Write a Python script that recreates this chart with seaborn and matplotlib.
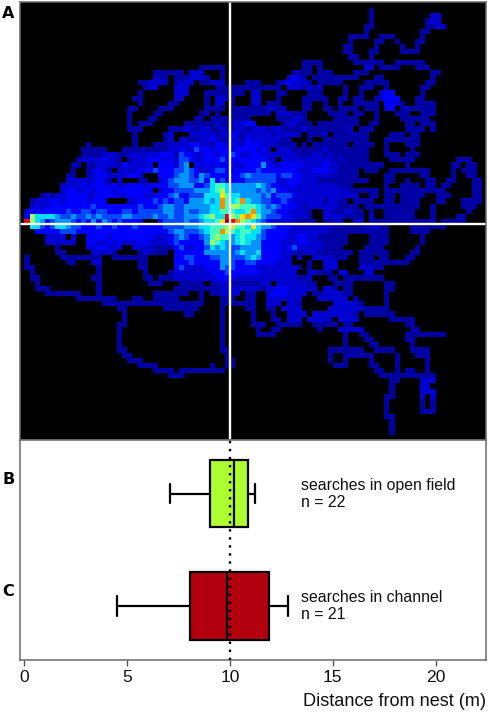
import numpy as np
import pandas as pd
import seaborn as sns
import matplotlib.pyplot as plt
from matplotlib.colors import ListedColormap

# visit counts per 0.25 m cell, one entry per row from the top
# each token is start_column:levels (hex digit), anything not listed is never visited
HEAT_ROWS = [
    "",
    "67:1",
    "67:1 79:22",
    "67:1 78:122",
    "66:11 78:1122",
    "66:1 77:11",
    "63:1111 69:111 77:1",
    "63:1 68:11 72:1 76:11",
    "62:11 68:1 73:1 76:1",
    "62:11 67:11 73:1111",
    "63:11 67:1",
    "54:1111 64:111111 72:111111",
    "34:11111 54:11 57:1 66:22 69:1111 76:111",
    "25:111111 32:222 38:1 52:1111 57:111 64:111 79:11",
    "25:211 29:111222 35:1 38:1 51:2321 56:1 57:11111111 68:11 79:1",
    "22:1122 26:22 29:1222 34:11222 43:111 49:1232221 57:11111 66:11111 78:11",
    "23:1 24:22 29:222 37:111111 43:1111111 51:2221212 62:1 65:111 70:1 77:11",
    "22:1 29:222 35:111111 41:11 44:22 49:11 55:111 62:1 65:1 69:233 77:1",
    "21:11 29:22 35:1 37:22 39:11 44:22 49:1 54:11111 61:11 64:11 68:12333 76:11",
    "22:1 28:11 35:1 37:22 40:1 44:22 47:111 54:11 58:1 61:1 64:11111 70:3321 76:1111",
    "20:11 26:111 35:1111 40:111 43:11112211 54:11 58:11 61:1111 66:111 70:23 73:1211111",
    "20:1 25:11 34:11 37:1 40:111 43:11111 49:22211 54:1 59:1111 64:11 68:1 72:111 77:111",
    "20:1 24:11 33:11 36:1111111 43:1 49:11122 54:1 60:1111 64:1 68:1 73:111 76:11 78:1",
    "20:1 22:111 31:1111112 38:11222 43:33 50:122 53:111 57:1111111 64:1 67:11 74:11 77:111",
    "20:111 28:1112212211 38:2112212 45:2212211112 55:111111112 65:111 74:1111 79:1",
    "21:1 27:12 32:2222 36:2122 40:3212 44:2222122221 55:1112 60:111111 64:111 71:111 75:11",
    "21:1 27:12 30:2211223 37:2112 41:21 43:322222211 55:1 58:111111 64:111 70:111111 75:11",
    "12:1 21:1 25:111 28:22223322 36:1332 40:322 43:33322211 51:11 54:1 56:1111111 64:1111 70:1 74:111",
    "11:11111 19:11111 24:111122 30:3224332 37:3332 41:33 43:3323 47:2 49:2221 53:11111 58:21111 63:111 66:1 70:1 75:1",
    "11:1111222 18:11222 23:2223331 30:433 33:223 36:32 38:3343 42:22 44:3322 48:2222 52:2111 56:2212 60:11111 65:11 70:111 74:111",
    "10:122223221 20:1222333232 30:44322 35:3 36:33 38:43 40:3333 44:333 47:22 50:2222 54:22 56:2222 60:1211 64:111 71:11 73:111 84:111",
    "9:11 12:11222213 20:22223 26:3332 30:45 33:3232 37:32 39:33 41:22 43:3335 47:322 50:3 51:3332 55:22 57:2322 61:1111 65:11111 74:1 83:11 86:11",
    "9:1 12:12321 18:222233 24:34333 29:4454 33:3223 37:44 39:32 41:33 43:3343 47:3333 51:3 52:32 54:22 56:33 58:322 61:1111 66:111 71:11111111 83:1 85:111",
    "8:11 12:1233 16:222 19:2332 26:33 28:3455 32:43 34:54 36:33 38:33 40:33 42:45 44:44 46:44 48:43 50:4433 54:22 56:22 58:221 61:1111 70:11 77:11 83:1 86:11",
    "8:2222 12:223 15:21 18:2 22:11 26:23 28:4555 32:44 34:53 36:63 38:42 40:333 43:44 45:44 47:44 49:22 51:3332 55:22 57:1111 61:1111 65:11 70:11 74:1 78:11 82:11 87:11",
    "7:22223 12:2333 16:232 19:23 21:33 23:233 26:33 28:44555 33:334 36:677 39:6555 43:556 46:54 48:3 49:3233 53:22 55:2222 59:2211 63:1 70:1 73:1111 78:11 81:11 87:11",
    "7:233 10:2232 14:333 17:2 18:33 20:333 23:33 26:23 28:34 30:4445 34:55 36:678 39:655555 45:45 47:45 49:332 52:22 54:22222 59:22 61:22 63:11 64:11111 70:111 73:11111 78:1111 87:11",
    "3:1212 7:2333 11:3223 15:3332 19:2333 23:22 25:333 28:45 30:33 32:44 34:466 37:69 39:766 42:5 43:555 46:45 48:34 50:4432 54:22 56:2222 60:22 62:222 67:11 70:11 73:11111 80:111 87:11",
    "1:1222 5:3323 9:3332 13:333 20:22 22:33 24:34 26:34 28:34 30:43 32:55 34:565 37:6a767a65 45:54 47:43 49:34 51:32 53:22 55:2221 59:2211 64:1111 70:11 73:1111 80:11 85:1111",
    "1:2222 5:3333 9:3333 13:433 16:33 18:33 20:33 22:43 24:33 26:45 28:544 31:55 33:555 36:66a 39:788777 45:65 47:45 49:43 51:3321 55:22 57:22 59:2211 63:11 66:1111 70:1111111 79:1 85:111",
    "0:2 1:3333 5:3334 9:3344 13:3443 17:3344 21:3444 25:44 27:55 29:445 32:44 34:55 36:667 39:77 41:66 43:7a 45:65 47:54 49:33 51:22 53:22 55:1 58:22 60:1122 64:11 67:1 70:111111 79:1 86:1",
    "0:3 1:8 2:6666 6:5445 10:4454 14:5444 18:4554 22:4445 26:44 28:5445 32:55 34:678 37:66b 40:879a9 45:75 47:44 49:43 51:32 53:22 55:1 58:22 60:2211 64:11 67:2 70:111111 79:1 84:11",
    "0:b 1:8 2:6 3:53 5:45 7:55 9:4343 13:5354 17:3433 21:33 26:34 28:4445 32:44 34:566 37:79c 40:ba87 44:65 46:4 47:32 49:22 51:21 53:11 55:11 58:1122 64:22 67:1111 71:11111 76:1111 81:11111",
    "1:66 3:43 5:4 6:66 8:5 9:443 12:3343 16:3433 20:3433 24:33 26:34 28:44 30:45 32:55 34:66 36:77 38:78 40:97 42:76 44:96 46:55 48:43 50:33 52:22 54:22 56:22 58:22 60:11 62:11 64:11 66:222 69:11 75:1111111",
    "2:3 3:33 5:33 7:44 9:4 10:3333 14:33 16:3333 20:3333 24:3333 28:4 29:5 30:54 32:44 34:5 35:6 36:77 38:a87 41:6 42:77 44:66 46:4 47:33 49:33 51:22 53:22 55:22 57:22 59:11 61:111 64:111 67:111 70:1 75:1111",
    "4:2222 9:2 12:3333 16:2333 20:333 23:33 25:22 27:2 28:3 29:45 31:4 32:33 34:45 36:787 39:7 40:56 42:76 44:65 46:4 47:33 49:33 51:22 53:33 55:2211 59:11 61:11 67:1111 77:1",
    "4:22 6:222 8:22 12:3322 16:3232 20:2233 24:22 26:22 28:3 29:43 31:33 33:33 35:5 36:87 38:65 40:56 42:76 44:55 46:33 48:33 50:22 52:23 54:32 56:2211 60:11 62:1 67:1111 77:1",
    "6:1 12:22 14:33 16:22 18:2 21:2222 25:11 27:11 29:34 31:22 33:33 35:4 36:65 38:65 40:44 42:55 44:55 46:33 48:33 50:2 51:34 53:22 55:2 56:22 58:11 60:11 66:1111 76:1",
    "6:11 13:22 15:22 17:1 22:1 23:22 25:11 27:1 29:33 31:33 33:33 35:55 37:55 39:5 40:45 42:65 44:56 46:33 48:33 50:22 52:21 54:22 56:21 58:1111 62:11 65:11 67:11 69:11 75:11",
    "0:1 7:11111111 17:1111111 29:33 31:44 33:33 35:34 37:45 39:54 41:44 43:56 45:5 46:33 48:33 50:22 53:2 56:22 58:22 60:11 62:1 65:111 69:11 74:11",
    "0:1 8:11 13:22 22:11 29:33 31:34 33:33 35:33 37:35 39:54 41:33 43:44 45:33 47:33 49:22 51:2 55:1 58:222 65:1111111111",
    "0:11 14:1 22:11 29:34 31:22 33:22 35:33 37:35 39:44 41:33 43:33 45:22 47:22 49:22 51:22 53:1 55:1 58:222 65:22211",
    "1:1 14:1 23:1 28:1222 32:22 34:22 36:33 38:34 40:33 42:33 44:33 46:22 48:22 50:22 52:2 55:22111 61:22 66:22",
    "1:11 13:11 23:11 26:111 29:2222 33:22 35:22 37:33 39:33 41:22 43:22 45:22 47:22 49:22 51:22 53:11 55:2 59:11 62:11111111",
    "2:1 14:1 24:111 30:111 33:11 36:1122 40:111111 46:22 49:222 52:2 53:22 55:11 60:11 62:11 70:11",
    "2:111 14:1 29:111 32:11 34:1 35:1 36:1122 40:222 43:222 46:1 47:2233 51:2222 55:22 58:22 60:1 62:11 70:11",
    "4:1111111 14:1 25:11111 30:11 34:1 36:112222 43:11 47:2 48:33 50:3 51:22 53:22 56:11 58:2222 62:11 70:1",
    "10:11111111 21:11 25:11111 34:1 38:11 40:1 43:11 47:222 50:22 52:22 57:2222 61:22 64:1 70:1",
    "15:111111111111 27:11111 32:111 38:11111 43:11 47:222 51:22 53:1 60:22222 65:1 70:1",
    "18:11 27:1111111 38:1 43:11 47:11 50:2222 53:2 59:222 62:22222 66:11111",
    "19:1 31:11 38:1 44:1 48:1 51:2222 56:22222 61:222 64:1 66:111111",
    "19:1 38:1 44:1 48:11 51:222 55:222 58:2 59:1 61:2222 71:11111",
    "18:11 38:1 44:111 49:11111 56:111 59:1 60:1 62:11 74:11",
    "18:1 38:1 45:1 48:11 57:1 61:22222 75:11",
    "18:1 38:1 45:1111 62:1 65:11 74:11111111",
    "18:1 38:1 62:1 66:11 74:11",
    "18:1 38:1 62:1 67:11 75:1",
    "18:11 38:11 59:1111111 68:1111 75:1111",
    "19:11 39:1 59:1 62:11 64:1111 72:1 76:111",
    "20:111 39:11 59:1 62:1 67:1 72:1 78:1",
    "22:1111 36:1 39:11 60:111 67:11 72:1 78:1",
    "25:1111 30:111111111 68:11 72:1 74:11 78:1",
    "28:111 69:1111111 76:1111",
    "71:11 77:222",
    "71:1 77:22",
    "71:1 77:222",
    "70:11 77:2 79:2",
    "70:1 77:1 79:1",
    "70:1 77:1 79:1",
    "70:1 77:111",
    "70:11",
    "71:1",
    "71:1",
    "71:1",
    "",
]

LEVEL_COLORS = ['#0000a4', '#0000d0', '#0000ff', '#0048ff', '#0094ff', '#00e0ff',
                '#40ffc0', '#a0ff60', '#ffe000', '#ff8c00', '#f00000', '#8c0000']

GROUPS = ['B', 'C']
OPEN_FIELD = [7.1, 9.05, 10.2, 10.9, 11.2]
CHANNEL = [4.5, 8.05, 9.85, 11.9, 12.85]
BOX_COLORS = ['#adff2f', '#b2000f']
XTICKS = [0, 5, 10, 15, 20]
NEST_DIST = 10
CELL = 0.25
N_COLS = 90

# 把每行的 token 还原成矩阵
grid = np.zeros((len(HEAT_ROWS), N_COLS))
for r, row in enumerate(HEAT_ROWS):
    for tok in row.split():
        start, levels = tok.split(':')
        for i, ch in enumerate(levels):
            grid[r, int(start) + i] = int(ch, 16)

sns.set_theme(style='white')
plt.rcParams['font.family'] = ['Liberation Sans', 'DejaVu Sans']

W, H = 490, 715
fig = plt.figure(figsize=(W / 100, H / 100), dpi=100)
ax_a = fig.add_axes([20 / W, (H - 440) / H, 466 / W, 438 / H])
ax_b = fig.add_axes([20 / W, (H - 660) / H, 466 / W, 220 / H])

# Panel A
ax_a.set_facecolor('black')
sns.heatmap(grid, mask=grid == 0, cmap=ListedColormap(LEVEL_COLORS), vmin=0.5, vmax=12.5,
            cbar=False, xticklabels=False, yticklabels=False, ax=ax_a)
ax_a.set_xlim(-0.875, 89.8)
ax_a.set_ylim(85, -0.2)
ax_a.axvline(NEST_DIST / CELL, color='white', linewidth=1.7)
ax_a.axhline(43, color='white', linewidth=1.7)

# Panels B and C
box_df = pd.DataFrame({
    'group': ['B'] * len(OPEN_FIELD) + ['C'] * len(CHANNEL),
    'dist': OPEN_FIELD + CHANNEL,
})
sns.boxplot(data=box_df, x='dist', y='group', hue='group', order=GROUPS, palette=BOX_COLORS,
            saturation=1, width=0.6, whis=(0, 100), linecolor='black', linewidth=1.6,
            capwidths=0.17, legend=False, ax=ax_b)
ax_b.axvline(NEST_DIST, color='black', linewidth=1.7, linestyle=(0, (1, 2.4)), zorder=6)
ax_b.set_xlim(-0.2, 22.45)
ax_b.set_ylim(1.48, -0.476)
ax_b.set_xticks(XTICKS)
ax_b.set_yticks([])
ax_b.set_ylabel('')
ax_b.set_xlabel('')
ax_b.tick_params(axis='x', bottom=True, length=4, width=1, color='#555555', labelsize=12.6, pad=3,
                 labelcolor='#111111')

for ax in [ax_a, ax_b]:
    for side in ax.spines:
        ax.spines[side].set_visible(True)
        ax.spines[side].set_color('#6a6a6a')
        ax.spines[side].set_linewidth(1.1)

ax_b.text(13.45, 0.0, 'searches in open field\nn = 22', fontsize=11.4, color='#111111',
          va='center', linespacing=1.17)
ax_b.text(13.45, 1.0, 'searches in channel\nn = 21', fontsize=11.4, color='#111111',
          va='center', linespacing=1.17)

fig.text(486 / W, 1 - 702 / H, 'Distance from nest (m)', fontsize=13.1, ha='right', va='center',
         color='#111111')
for letter, y in zip(['A', 'B', 'C'], [13, 480, 592]):
    fig.text(2 / W, 1 - y / H, letter, fontsize=11.5, fontweight='bold', family='DejaVu Sans',
             va='center', color='black')

plt.savefig('out.png', dpi=100)
